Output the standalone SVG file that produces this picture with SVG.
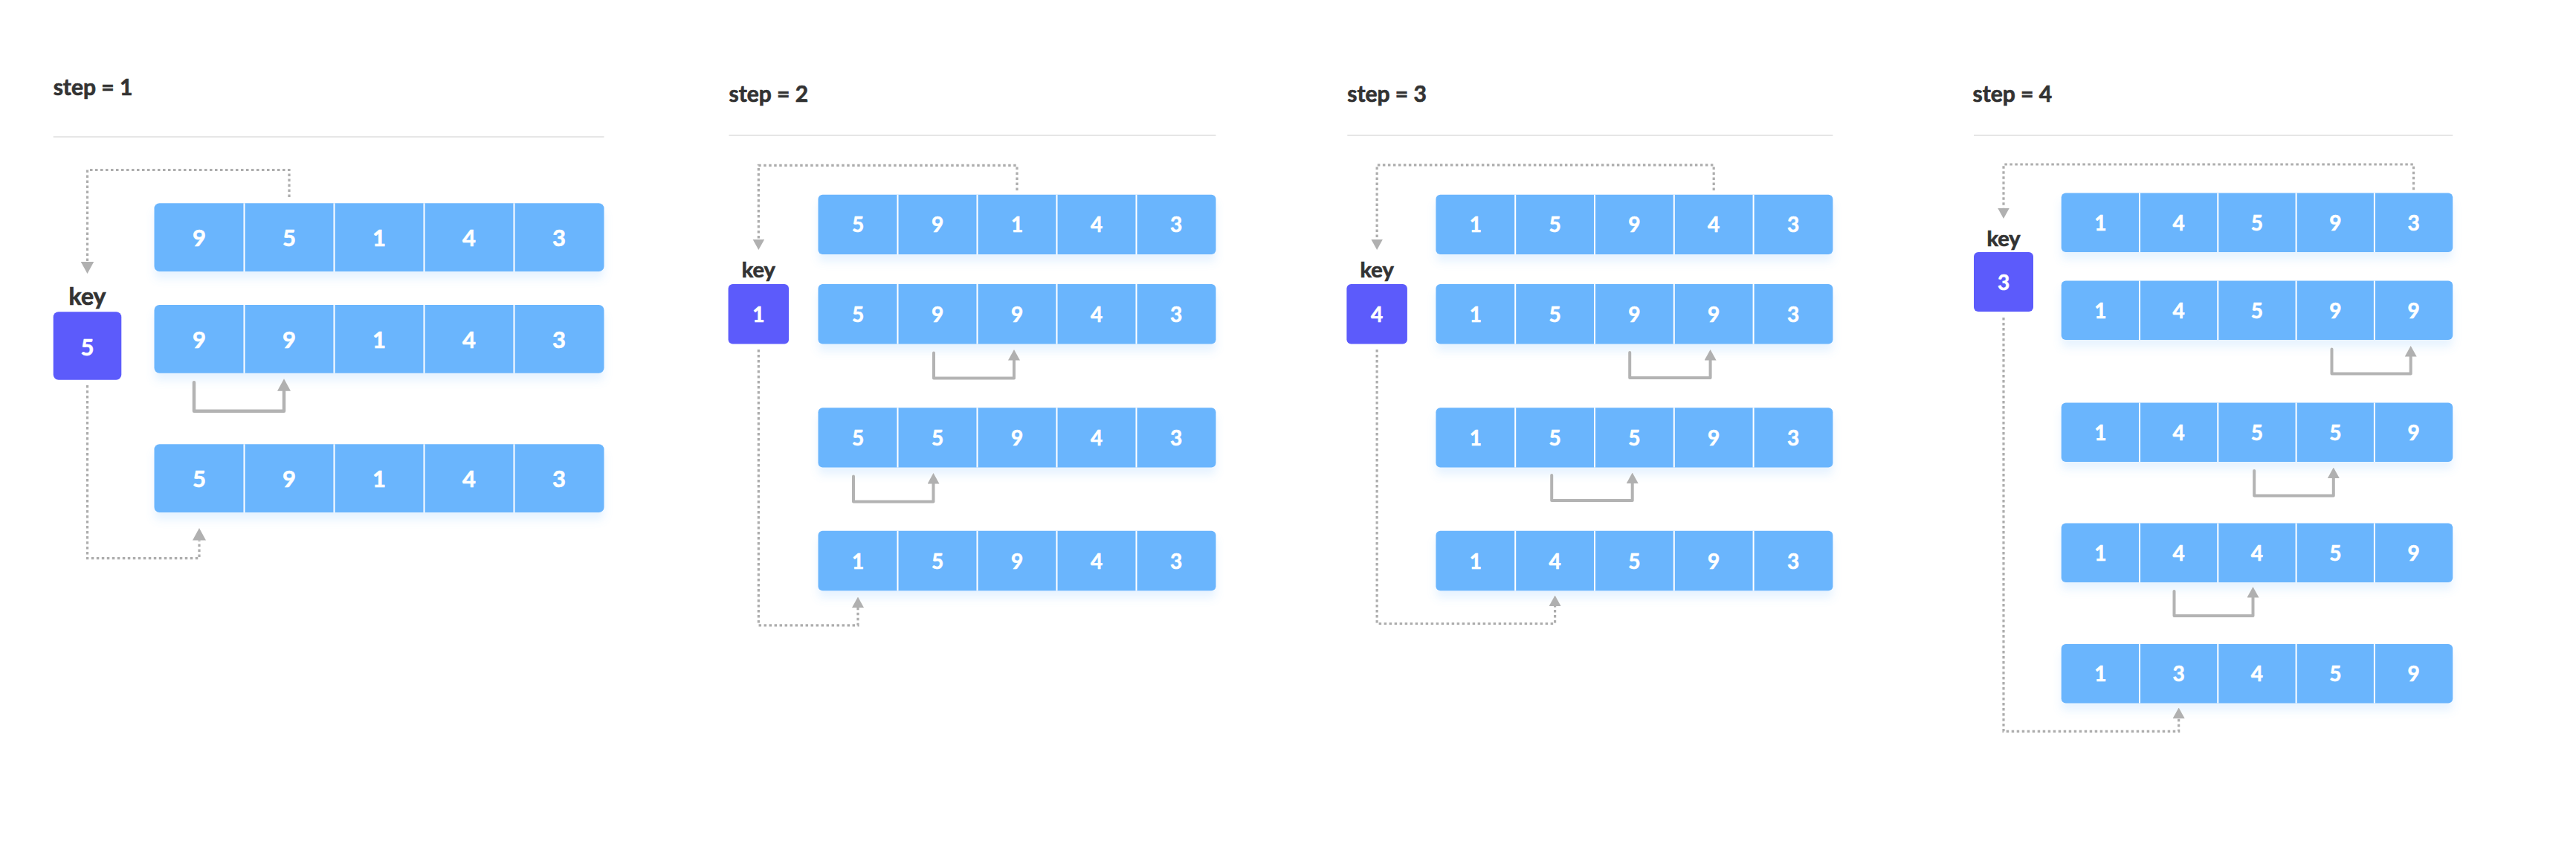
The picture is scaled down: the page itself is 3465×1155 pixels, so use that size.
<svg xmlns="http://www.w3.org/2000/svg" width="3465" height="1155" viewBox="0 0 3465 1155">
<style>
.bg{fill:#ffffff}
.title{font-family:Lato,"Liberation Sans",sans-serif;font-weight:700;font-size:30px;fill:#333333;stroke:#333333;stroke-width:0.7px}
.keylbl{font-family:Lato,"Liberation Sans",sans-serif;font-weight:700;font-size:29px;fill:#333333;stroke:#333333;stroke-width:0.7px;text-anchor:middle}
.keylbl1{font-size:32px}
.sep{stroke:#e6e6e6;stroke-width:2;fill:none}
.row{fill:#6bb5fd;filter:url(#sh)}
.div{stroke:#ffffff;stroke-width:2}
.keybox{fill:#5c5bfb}
.num{font-family:Lato,"Liberation Sans",sans-serif;font-weight:700;font-size:28px;fill:#ffffff;stroke:#ffffff;stroke-width:0.6px;text-anchor:middle}
.num1{font-size:31px}
.dot{fill:none;stroke:#adadad;stroke-width:3.2;stroke-dasharray:3.5 3.5}
.mv{fill:none;stroke:#b3b3b3;stroke-width:4;stroke-linejoin:round;stroke-linecap:round}
.mv1{stroke-width:4.5}
</style>
<defs>
<filter id="sh" x="-5%" y="-20%" width="110%" height="160%">
<feDropShadow dx="0" dy="10" stdDeviation="6" flood-color="#6bb5fd" flood-opacity="0.16"/>
</filter>
<marker id="ah" markerUnits="userSpaceOnUse" orient="auto" viewBox="0 0 14.5 16" markerWidth="14.5" markerHeight="16" refX="0" refY="8">
<path d="M0,0 L14.5,8 L0,16 Z" fill="#b0b0b0"/>
</marker>
<marker id="ahL" markerUnits="userSpaceOnUse" orient="auto" viewBox="0 0 16.5 18" markerWidth="16.5" markerHeight="18" refX="0" refY="9">
<path d="M0,0 L16.5,9 L0,18 Z" fill="#b0b0b0"/>
</marker>
</defs>
<rect class="bg" x="0" y="0" width="3465" height="1155"/>

<!-- Panel 1 -->
<g id="panel1-header">
<text class="title" x="71.7" y="128">step = 1</text>
<line class="sep" x1="71.7" y1="184" x2="812.5" y2="184"/>
</g>
<g id="p1-key">
<text class="keylbl keylbl1" x="117.5" y="410">key</text>
<rect class="keybox" x="71.7" y="419.3" width="91.6" height="91.4" rx="7"/>
<text class="num num1" x="117.5" y="477.5">5</text>
</g>
<g id="p1-row1">
<rect class="row" x="207.5" y="273.3" width="605" height="91.7" rx="7"/>
<path class="div" d="M328.5,273.3V365M449.5,273.3V365M570.5,273.3V365M691.5,273.3V365"/>
<g class="num num1"><text x="268" y="331">9</text><text x="389" y="331">5</text><text x="510" y="331">1</text><text x="631" y="331">4</text><text x="752" y="331">3</text></g>
</g>
<g id="p1-row2">
<rect class="row" x="207.5" y="410" width="605" height="91.7" rx="7"/>
<path class="div" d="M328.5,410V501.7M449.5,410V501.7M570.5,410V501.7M691.5,410V501.7"/>
<g class="num num1"><text x="268" y="467.8">9</text><text x="389" y="467.8">9</text><text x="510" y="467.8">1</text><text x="631" y="467.8">4</text><text x="752" y="467.8">3</text></g>
</g>
<g id="p1-row3">
<rect class="row" x="207.5" y="597.3" width="605" height="91.7" rx="7"/>
<path class="div" d="M328.5,597.3V689M449.5,597.3V689M570.5,597.3V689M691.5,597.3V689"/>
<g class="num num1"><text x="268" y="655.1">5</text><text x="389" y="655.1">9</text><text x="510" y="655.1">1</text><text x="631" y="655.1">4</text><text x="752" y="655.1">3</text></g>
</g>

<!-- Panel 2 -->
<g id="panel2-header">
<text class="title" x="980.5" y="136.8">step = 2</text>
<line class="sep" x1="980.5" y1="182" x2="1635.5" y2="182"/>
</g>
<g id="p2-key">
<text class="keylbl" x="1020.35" y="373.3">key</text>
<rect class="keybox" x="979.6" y="382" width="81.5" height="80.4" rx="6"/>
<text class="num" x="1020.35" y="432.7">1</text>
</g>
<g id="p2-row1">
<rect class="row" x="1100.5" y="261.7" width="535" height="80.4" rx="6"/>
<path class="div" d="M1207.5,261.7V342.1M1314.5,261.7V342.1M1421.5,261.7V342.1M1528.5,261.7V342.1"/>
<g class="num"><text x="1154" y="312.4">5</text><text x="1261" y="312.4">9</text><text x="1368" y="312.4">1</text><text x="1475" y="312.4">4</text><text x="1582" y="312.4">3</text></g>
</g>
<g id="p2-row2">
<rect class="row" x="1100.5" y="382" width="535" height="80.4" rx="6"/>
<path class="div" d="M1207.5,382V462.4M1314.5,382V462.4M1421.5,382V462.4M1528.5,382V462.4"/>
<g class="num"><text x="1154" y="432.7">5</text><text x="1261" y="432.7">9</text><text x="1368" y="432.7">9</text><text x="1475" y="432.7">4</text><text x="1582" y="432.7">3</text></g>
</g>
<g id="p2-row3">
<rect class="row" x="1100.5" y="548.2" width="535" height="80.4" rx="6"/>
<path class="div" d="M1207.5,548.2V628.6M1314.5,548.2V628.6M1421.5,548.2V628.6M1528.5,548.2V628.6"/>
<g class="num"><text x="1154" y="598.9">5</text><text x="1261" y="598.9">5</text><text x="1368" y="598.9">9</text><text x="1475" y="598.9">4</text><text x="1582" y="598.9">3</text></g>
</g>
<g id="p2-row4">
<rect class="row" x="1100.5" y="713.8" width="535" height="80.4" rx="6"/>
<path class="div" d="M1207.5,713.8V794.2M1314.5,713.8V794.2M1421.5,713.8V794.2M1528.5,713.8V794.2"/>
<g class="num"><text x="1154" y="764.5">1</text><text x="1261" y="764.5">5</text><text x="1368" y="764.5">9</text><text x="1475" y="764.5">4</text><text x="1582" y="764.5">3</text></g>
</g>

<!-- Panel 3 -->
<g id="panel3-header">
<text class="title" x="1812.3" y="136.8">step = 3</text>
<line class="sep" x1="1812.3" y1="182" x2="2465.4" y2="182"/>
</g>
<g id="p3-key">
<text class="keylbl" x="1852.15" y="373.3">key</text>
<rect class="keybox" x="1811.4" y="382" width="81.5" height="80.4" rx="6"/>
<text class="num" x="1852.15" y="432.7">4</text>
</g>
<g id="p3-row1">
<rect class="row" x="1931.4" y="261.7" width="534" height="80.4" rx="6"/>
<path class="div" d="M2038.2,261.7V342.1M2145,261.7V342.1M2251.8,261.7V342.1M2358.6,261.7V342.1"/>
<g class="num"><text x="1984.8" y="312.4">1</text><text x="2091.6" y="312.4">5</text><text x="2198.4" y="312.4">9</text><text x="2305.2" y="312.4">4</text><text x="2412" y="312.4">3</text></g>
</g>
<g id="p3-row2">
<rect class="row" x="1931.4" y="382" width="534" height="80.4" rx="6"/>
<path class="div" d="M2038.2,382V462.4M2145,382V462.4M2251.8,382V462.4M2358.6,382V462.4"/>
<g class="num"><text x="1984.8" y="432.7">1</text><text x="2091.6" y="432.7">5</text><text x="2198.4" y="432.7">9</text><text x="2305.2" y="432.7">9</text><text x="2412" y="432.7">3</text></g>
</g>
<g id="p3-row3">
<rect class="row" x="1931.4" y="548.2" width="534" height="80.4" rx="6"/>
<path class="div" d="M2038.2,548.2V628.6M2145,548.2V628.6M2251.8,548.2V628.6M2358.6,548.2V628.6"/>
<g class="num"><text x="1984.8" y="598.9">1</text><text x="2091.6" y="598.9">5</text><text x="2198.4" y="598.9">5</text><text x="2305.2" y="598.9">9</text><text x="2412" y="598.9">3</text></g>
</g>
<g id="p3-row4">
<rect class="row" x="1931.4" y="713.8" width="534" height="80.4" rx="6"/>
<path class="div" d="M2038.2,713.8V794.2M2145,713.8V794.2M2251.8,713.8V794.2M2358.6,713.8V794.2"/>
<g class="num"><text x="1984.8" y="764.5">1</text><text x="2091.6" y="764.5">4</text><text x="2198.4" y="764.5">5</text><text x="2305.2" y="764.5">9</text><text x="2412" y="764.5">3</text></g>
</g>

<!-- Panel 4 -->
<g id="panel4-header">
<text class="title" x="2653.5" y="136.8">step = 4</text>
<line class="sep" x1="2655" y1="182" x2="3299.2" y2="182"/>
</g>
<g id="p4-key">
<text class="keylbl" x="2695" y="330.7">key</text>
<rect class="keybox" x="2655" y="339" width="80" height="80" rx="6"/>
<text class="num" x="2695" y="390">3</text>
</g>
<g id="p4-row1">
<rect class="row" x="2772.7" y="259.5" width="526.5" height="79.5" rx="6"/>
<path class="div" d="M2878,259.5V339M2983.3,259.5V339M3088.6,259.5V339M3193.9,259.5V339"/>
<g class="num"><text x="2825.35" y="309.75">1</text><text x="2930.65" y="309.75">4</text><text x="3035.95" y="309.75">5</text><text x="3141.25" y="309.75">9</text><text x="3246.55" y="309.75">3</text></g>
</g>
<g id="p4-row2">
<rect class="row" x="2772.7" y="377.5" width="526.5" height="79.5" rx="6"/>
<path class="div" d="M2878,377.5V457M2983.3,377.5V457M3088.6,377.5V457M3193.9,377.5V457"/>
<g class="num"><text x="2825.35" y="427.75">1</text><text x="2930.65" y="427.75">4</text><text x="3035.95" y="427.75">5</text><text x="3141.25" y="427.75">9</text><text x="3246.55" y="427.75">9</text></g>
</g>
<g id="p4-row3">
<rect class="row" x="2772.7" y="541.5" width="526.5" height="79.5" rx="6"/>
<path class="div" d="M2878,541.5V621M2983.3,541.5V621M3088.6,541.5V621M3193.9,541.5V621"/>
<g class="num"><text x="2825.35" y="591.75">1</text><text x="2930.65" y="591.75">4</text><text x="3035.95" y="591.75">5</text><text x="3141.25" y="591.75">5</text><text x="3246.55" y="591.75">9</text></g>
</g>
<g id="p4-row4">
<rect class="row" x="2772.7" y="703.5" width="526.5" height="79.5" rx="6"/>
<path class="div" d="M2878,703.5V783M2983.3,703.5V783M3088.6,703.5V783M3193.9,703.5V783"/>
<g class="num"><text x="2825.35" y="753.75">1</text><text x="2930.65" y="753.75">4</text><text x="3035.95" y="753.75">4</text><text x="3141.25" y="753.75">5</text><text x="3246.55" y="753.75">9</text></g>
</g>
<g id="p4-row5">
<rect class="row" x="2772.7" y="866" width="526.5" height="79.5" rx="6"/>
<path class="div" d="M2878,866V945.5M2983.3,866V945.5M3088.6,866V945.5M3193.9,866V945.5"/>
<g class="num"><text x="2825.35" y="916.25">1</text><text x="2930.65" y="916.25">3</text><text x="3035.95" y="916.25">4</text><text x="3141.25" y="916.25">5</text><text x="3246.55" y="916.25">9</text></g>
</g>

<g id="connectors">
<path class="dot" d="M389,265V228.5H117.5V351.5" marker-end="url(#ahL)"/>
<path class="dot" d="M117.5,518V750.7H268V726.5" marker-end="url(#ahL)"/>
<path class="mv mv1" d="M261,514.3V552.7H382V525.7" marker-end="url(#ahL)"/>

<path class="dot" d="M1368,256V222.3H1020.35V321.5" marker-end="url(#ah)"/>
<path class="dot" d="M1020.35,470V840.8H1154V817" marker-end="url(#ah)"/>
<path class="mv" d="M1256,474.5V508.5H1364V484.5" marker-end="url(#ah)"/>
<path class="mv" d="M1148,640.6V674.6H1255.5V650.6" marker-end="url(#ah)"/>

<path class="dot" d="M2305.2,256V221.8H1852.15V321.5" marker-end="url(#ah)"/>
<path class="dot" d="M1852.15,470V838.5H2091.6V815" marker-end="url(#ah)"/>
<path class="mv" d="M2192.2,474V508H2300.6V484.5" marker-end="url(#ah)"/>
<path class="mv" d="M2087.2,639V673H2195.7V650" marker-end="url(#ah)"/>

<path class="dot" d="M3246.55,255.3V221H2695V279.5" marker-end="url(#ah)"/>
<path class="dot" d="M2695,427V983.3H2930.65V966" marker-end="url(#ah)"/>
<path class="mv" d="M3136.5,469.5V502.5H3242.7V479.5" marker-end="url(#ah)"/>
<path class="mv" d="M3032.2,633V666.6H3138.8V643" marker-end="url(#ah)"/>
<path class="mv" d="M2924.5,795V828H3030.5V803.5" marker-end="url(#ah)"/>
</g>
</svg>
